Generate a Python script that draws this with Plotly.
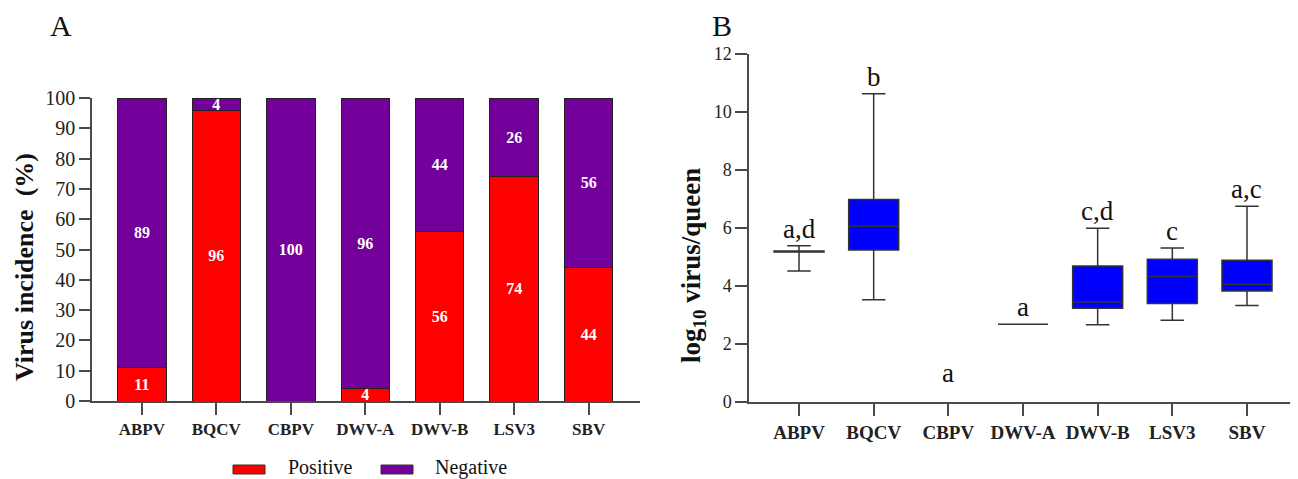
import plotly.graph_objects as go

# ---------------- data ----------------
viruses = ["ABPV", "BQCV", "CBPV", "DWV-A", "DWV-B", "LSV3", "SBV"]
positive_pct = [11, 96, 0, 4, 56, 74, 44]
negative_pct = [89, 4, 100, 96, 44, 26, 56]

box_viruses = ["ABPV", "BQCV", "DWV-A", "DWV-B", "LSV3", "SBV"]
box_lower = [4.52, 3.53, 2.68, 2.66, 2.82, 3.33]
box_q1 = [5.17, 5.24, 2.68, 3.23, 3.40, 3.83]
box_median = [5.19, 6.06, 2.68, 3.45, 4.33, 4.06]
box_q3 = [5.21, 6.98, 2.68, 4.69, 4.92, 4.89]
box_upper = [5.39, 10.63, 2.68, 5.99, 5.31, 6.75]

sig_letters = ["a,d", "b", "a", "a", "c,d", "c", "a,c"]

legend_names = ["Positive", "Negative"]

# ---------------- style ----------------
W, H = 1298, 479
OFF = 8  # page body margin
FW, FH = W - OFF, H - OFF
SERIF = "Liberation Serif"
RED = "#FF0000"
PURPLE = "#73009A"
BLUE = "#0000FF"
AX = "#4a4a4a"


def px_x(p):
    return (p - OFF) / FW


def px_y(p):
    return 1 - (p - OFF) / FH


fig = go.Figure()

for name, vals, col in [(legend_names[0], positive_pct, RED), (legend_names[1], negative_pct, PURPLE)]:
    xs = [v for v, p in zip(viruses, vals) if p > 0]
    ys = [p for p in vals if p > 0]
    fig.add_trace(go.Bar(
        x=xs, y=ys, name=name,
        marker=dict(color=col, line=dict(color="#222222", width=1)),
        text=[str(p) for p in ys],
        textposition="inside", insidetextanchor="middle", constraintext="none",
        textangle=0,
        textfont=dict(family=SERIF, size=16, color="white", weight="bold"),
        width=0.65, xaxis="x", yaxis="y", showlegend=False,
    ))

fig.add_trace(go.Box(
    x=box_viruses, q1=box_q1, median=box_median, q3=box_q3,
    lowerfence=box_lower, upperfence=box_upper,
    fillcolor=BLUE, line=dict(color="#333333", width=1.5),
    whiskerwidth=0.47, width=0.67, boxpoints=False,
    xaxis="x2", yaxis="y2", showlegend=False,
))

axis_common = dict(showline=True, linecolor=AX, linewidth=1.5, ticks="outside",
                   tickcolor=AX, tickwidth=1.5, showgrid=False, zeroline=False,
                   automargin=False)

fig.update_layout(
    template="none",
    barmode="stack",
    width=FW, height=FH,
    margin=dict(l=0, r=0, t=0, b=0),
    paper_bgcolor="white", plot_bgcolor="white",
    xaxis=dict(domain=[px_x(92), px_x(640)], range=[-0.67, 6.69],
               categoryorder="array", categoryarray=viruses, ticklen=12,
               tickfont=dict(family=SERIF, size=17, color="#222", weight="bold"),
               anchor="y", **axis_common),
    yaxis=dict(domain=[px_y(401), px_y(98)], range=[0, 100], dtick=10, ticklen=11,
               tickfont=dict(family=SERIF, size=20, color="#222"),
               anchor="x", **axis_common),
    xaxis2=dict(domain=[px_x(749), px_x(1297)], range=[-0.67, 6.67],
                categoryorder="array", categoryarray=viruses, ticklen=12,
                tickfont=dict(family=SERIF, size=19, color="#222", weight="bold"),
                anchor="y2", **axis_common),
    yaxis2=dict(domain=[px_y(402), px_y(54)], range=[0, 12], dtick=2, ticklen=12,
                tickfont=dict(family=SERIF, size=18, color="#222"),
                anchor="x2", **axis_common),
)

# significance letters
upper_lookup = dict(zip(box_viruses, box_upper))
for v, letter in zip(viruses, sig_letters):
    has = v in upper_lookup
    fig.add_annotation(
        x=v, y=upper_lookup.get(v, 0), xref="x2", yref="y2",
        text=letter, showarrow=False, yanchor="bottom",
        yshift=0 if has else 12,
        font=dict(family=SERIF, size=27, color="#111"),
    )

# panel letters
fig.add_annotation(x=px_x(61), y=px_y(26), xref="paper", yref="paper", text="A",
                   showarrow=False, xanchor="center", yanchor="middle",
                   font=dict(family=SERIF, size=30, color="#111"))
fig.add_annotation(x=px_x(722), y=px_y(26), xref="paper", yref="paper", text="B",
                   showarrow=False, xanchor="center", yanchor="middle",
                   font=dict(family=SERIF, size=30, color="#111"))

# axis titles
fig.add_annotation(x=px_x(24), y=px_y(267), xref="paper", yref="paper",
                   text="<b>Virus incidence  (%)</b>", textangle=-90, showarrow=False,
                   xanchor="center", yanchor="middle",
                   font=dict(family=SERIF, size=26, color="#111"))
fig.add_annotation(x=px_x(693), y=px_y(266), xref="paper", yref="paper",
                   text="<b>log<sub>10</sub> virus/queen</b>", textangle=-90, showarrow=False,
                   xanchor="center", yanchor="middle",
                   font=dict(family=SERIF, size=27, color="#111"))

# legend
for (x0, x1, col, tx, name) in [(233, 265, RED, 286, legend_names[0]),
                                (381, 413, PURPLE, 433, legend_names[1])]:
    fig.add_shape(type="rect", xref="paper", yref="paper",
                  x0=px_x(x0), x1=px_x(x1), y0=px_y(474), y1=px_y(465),
                  fillcolor=col, line=dict(color="#333", width=1))
    fig.add_annotation(x=px_x(tx), y=px_y(467), xref="paper", yref="paper",
                       text=name, showarrow=False, xanchor="left", yanchor="middle",
                       font=dict(family=SERIF, size=20, color="#111"))

fig.write_html("out.html")
